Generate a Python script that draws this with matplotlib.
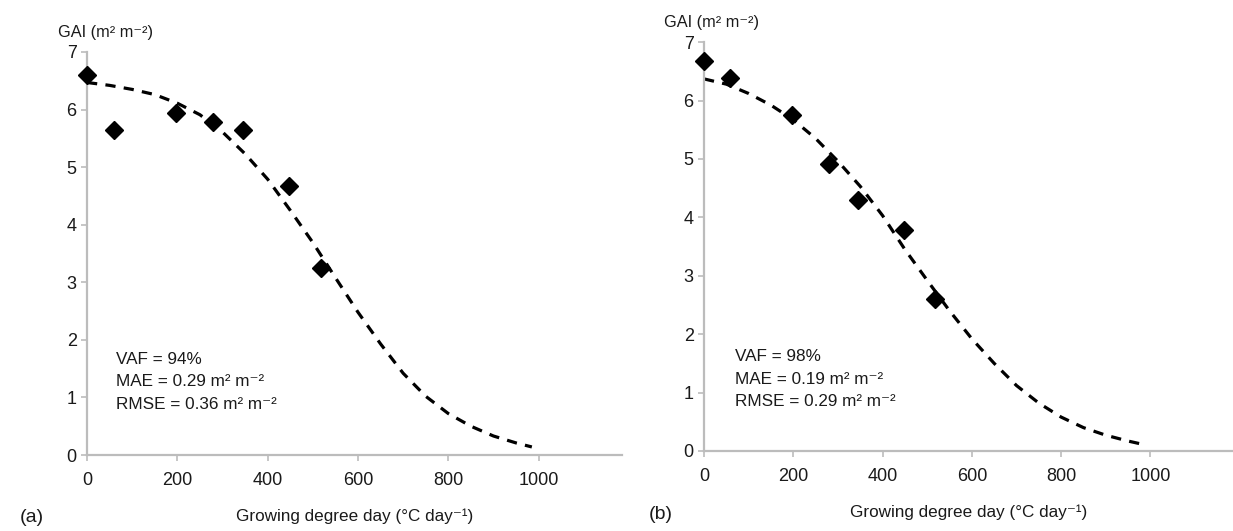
import matplotlib
matplotlib.use('Agg')
import matplotlib.pyplot as plt

plt.rcParams['font.family'] = ['Liberation Sans', 'DejaVu Sans']

# measured points (same growing degree days in both panels)
gdd = [0, 59, 196, 280, 345, 447, 517]
gai_a = [6.60, 5.65, 5.94, 5.78, 5.65, 4.67, 3.25]
gai_b = [6.68, 6.38, 5.75, 4.91, 4.30, 3.78, 2.61]

# fitted curves
fit_x = [0, 50, 100, 150, 200, 250, 300, 350, 400, 450, 500,
         550, 600, 650, 700, 750, 800, 850, 900, 950, 985]
fit_a = [6.47, 6.42, 6.35, 6.26, 6.11, 5.91, 5.61, 5.23, 4.79, 4.25, 3.69,
         3.08, 2.48, 1.93, 1.42, 1.02, 0.72, 0.50, 0.33, 0.21, 0.14]
fit_b = [6.37, 6.28, 6.12, 5.92, 5.67, 5.35, 4.96, 4.53, 4.03, 3.45, 2.92,
         2.40, 1.92, 1.50, 1.12, 0.82, 0.58, 0.40, 0.27, 0.17, 0.11]

stats_a = ['VAF = 94%', 'MAE = 0.29 m\u00b2 m\u207b\u00b2', 'RMSE = 0.36 m\u00b2 m\u207b\u00b2']
stats_b = ['VAF = 98%', 'MAE = 0.19 m\u00b2 m\u207b\u00b2', 'RMSE = 0.29 m\u00b2 m\u207b\u00b2']

xticks = [0, 200, 400, 600, 800, 1000]
yticks = [0, 1, 2, 3, 4, 5, 6, 7]
axis_grey = '#bcbcbc'


def panel(ax, y, fit, stats, tag, ylab_x, stat_x, stat_y, tag_x):
    ax.plot(fit_x, fit, color='black', lw=2.3, ls=(0, (3.2, 2.6)))
    ax.plot(gdd, y, 'kD', markersize=9.5, clip_on=False, zorder=3)
    ax.set_xlim(0, 1185)
    ax.set_ylim(0, 7)
    ax.set_xticks(xticks)
    ax.set_yticks(yticks)
    for s in ['top', 'right']:
        ax.spines[s].set_visible(False)
    for s in ['left', 'bottom']:
        ax.spines[s].set_color(axis_grey)
        ax.spines[s].set_linewidth(1.6)
    ax.tick_params(axis='both', colors=axis_grey, length=4, width=1.2,
                   labelcolor='#1a1a1a', labelsize=13)
    ax.tick_params(axis='x', pad=8)
    ax.set_xlabel('Growing degree day (\u00b0C day\u207b\u00b9)', fontsize=12.3,
                  color='#1a1a1a', labelpad=14)
    ax.text(ylab_x, 1.03, 'GAI (m\u00b2 m\u207b\u00b2)', transform=ax.transAxes,
            fontsize=11.8, color='#1a1a1a', ha='left', va='bottom')
    for i, s in enumerate(stats):
        ax.text(stat_x, stat_y - i * 0.39, s, fontsize=12.3, color='#1a1a1a',
                ha='left', va='center')
    ax.text(tag_x, -0.155, tag, transform=ax.transAxes, fontsize=14,
            color='#1a1a1a', ha='left', va='center')


fig = plt.figure(figsize=(12.33, 5.31), dpi=100)
ax1 = fig.add_axes([0.0706, 0.1431, 0.434, 0.759])
ax2 = fig.add_axes([0.571, 0.1507, 0.429, 0.770])

panel(ax1, gai_a, fit_a, stats_a, '(a)', -0.055, 64, 1.66, -0.125)
panel(ax2, gai_b, fit_b, stats_b, '(b)', -0.075, 69, 1.62, -0.105)

fig.savefig('out.png', dpi=100)
